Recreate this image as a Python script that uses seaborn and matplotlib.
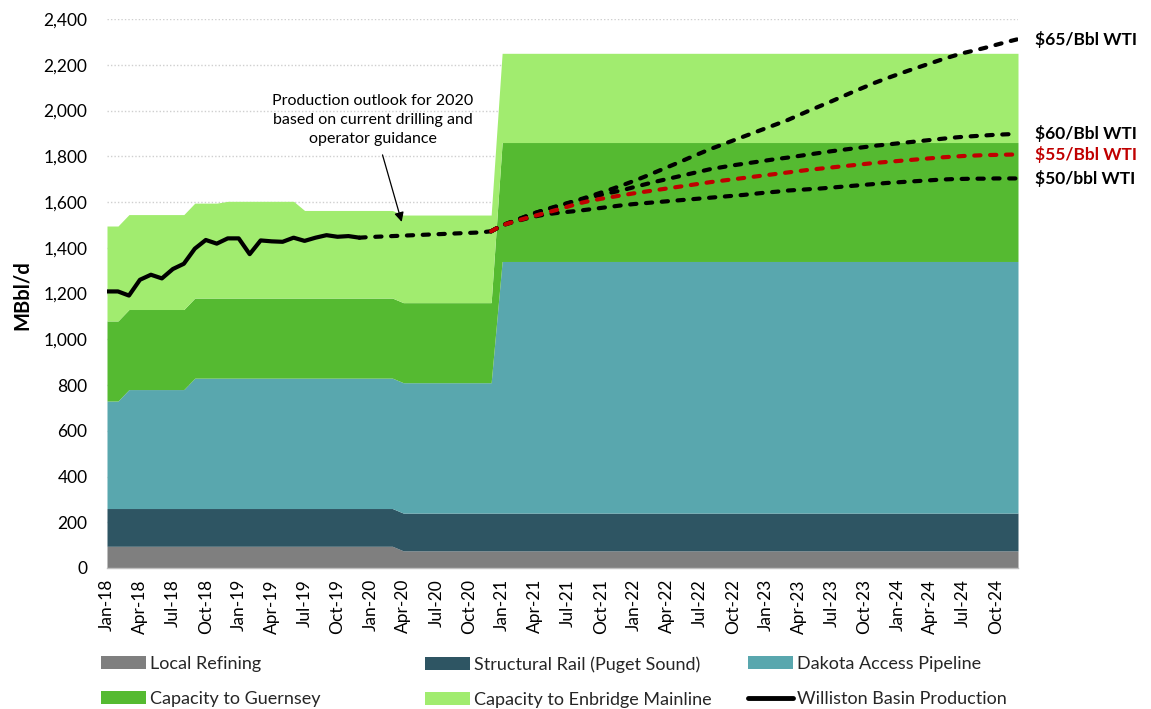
import numpy as np
import pandas as pd
import matplotlib
matplotlib.use("Agg")
import matplotlib.pyplot as plt
from matplotlib.patches import Patch
from matplotlib.lines import Line2D
import seaborn as sns

sns.set_theme(style="white")
plt.rcParams["font.family"] = ["Lato", "DejaVu Sans"]

# ---- monthly axis: Jan-2018 .. Dec-2024 ----
months = pd.date_range("2018-01-01", periods=84, freq="MS")
month_labels = [d.strftime("%b-%y") for d in months]
tick_step = 3

# ---- takeaway capacity (MBbl/d), one value per month ----
local_refining = [95] * 27 + [75] * 57
structural_rail = [165] * 84
dakota_access = [470] * 2 + [520] * 6 + [570] * 28 + [1100] * 48
capacity_guernsey = [350] * 36 + [520] * 48
capacity_enbridge = [415] * 11 + [423] * 7 + [383] * 18 + [390] * 48

capacity_labels = ["Local Refining", "Structural Rail (Puget Sound)",
                   "Dakota Access Pipeline", "Capacity to Guernsey",
                   "Capacity to Enbridge Mainline"]
capacity_colors = ["#7F7F7F", "#2E5563", "#59A7AE", "#55BA31", "#A1EC6F"]

# ---- Williston Basin production (MBbl/d) ----
# actuals, Jan-18 .. Dec-19
production_actual = [1209, 1209, 1191, 1260, 1282, 1266, 1307, 1330, 1396, 1434,
                     1418, 1441, 1441, 1372, 1432, 1428, 1426, 1444, 1430, 1444,
                     1455, 1448, 1451, 1444]
# 2020 outlook, Dec-19 .. Dec-20
outlook_2020 = [1444, 1447, 1449, 1451, 1453, 1455, 1457, 1459, 1461, 1463,
                1465, 1467, 1472]
# price scenarios, Jan-21 .. Dec-24
wti_65 = [1498, 1516, 1534, 1552, 1568, 1582, 1596, 1610, 1625, 1641, 1657, 1674,
          1692, 1711, 1731, 1751, 1771, 1792, 1812, 1832, 1850, 1868, 1886, 1904,
          1922, 1940, 1958, 1979, 2000, 2020, 2040, 2061, 2082, 2102, 2122, 2140,
          2157, 2174, 2190, 2206, 2222, 2237, 2251, 2262, 2274, 2287, 2300, 2312]
wti_60 = [1498, 1516, 1534, 1552, 1566, 1580, 1594, 1608, 1620, 1631, 1642, 1652,
          1665, 1677, 1689, 1700, 1711, 1722, 1733, 1744, 1752, 1760, 1767, 1774,
          1781, 1788, 1794, 1801, 1808, 1815, 1822, 1828, 1834, 1840, 1846, 1851,
          1856, 1861, 1866, 1871, 1876, 1881, 1885, 1888, 1891, 1894, 1896, 1898]
wti_55 = [1498, 1513, 1527, 1540, 1553, 1566, 1580, 1594, 1605, 1614, 1622, 1630,
          1638, 1645, 1652, 1659, 1666, 1673, 1680, 1687, 1693, 1699, 1705, 1711,
          1717, 1723, 1729, 1735, 1741, 1746, 1751, 1756, 1761, 1766, 1771, 1775,
          1779, 1783, 1787, 1791, 1795, 1798, 1801, 1803, 1805, 1806, 1807, 1808]
wti_50 = [1498, 1512, 1525, 1537, 1546, 1552, 1557, 1562, 1568, 1574, 1580, 1586,
          1591, 1595, 1599, 1603, 1607, 1611, 1615, 1619, 1623, 1627, 1631, 1636,
          1641, 1645, 1650, 1653, 1656, 1659, 1663, 1667, 1671, 1675, 1679, 1683,
          1686, 1689, 1692, 1695, 1698, 1700, 1701, 1702, 1702, 1703, 1703, 1703]
scenario_labels = ["$65/Bbl WTI", "$60/Bbl WTI", "$55/Bbl WTI", "$50/bbl WTI"]
scenario_colors = ["black", "black", "#C00000", "black"]

idx = np.arange(len(months))
i_actual = idx[:24]
i_2020 = idx[23:36]
i_scen = idx[35:]

fig = plt.figure(figsize=(11.51, 7.09), dpi=100)
ax = fig.add_axes([107 / 1151, 1 - 568 / 709, 911 / 1151, 549 / 709])

# stacked capacity areas
ax.stackplot(idx, local_refining, structural_rail, dakota_access,
             capacity_guernsey, capacity_enbridge,
             colors=capacity_colors, linewidth=0, zorder=2)

dash = (0, (1.5, 2.3))
line_kw = dict(linewidth=3.0, zorder=4)

sns.lineplot(x=i_actual, y=production_actual, ax=ax, color="black",
             linewidth=3.0, zorder=5, solid_capstyle="round")
sns.lineplot(x=i_2020, y=outlook_2020, ax=ax, color="black",
             linestyle=dash, dash_capstyle="round", **line_kw)

all_scenarios = [wti_65, wti_60, wti_55, wti_50]
for k in [0, 1, 3, 2]:
    vals = [outlook_2020[-1]] + all_scenarios[k]
    sns.lineplot(x=i_scen, y=vals, ax=ax, color=scenario_colors[k],
                 linestyle=dash, dash_capstyle="round", **line_kw)
    ax.annotate(scenario_labels[k], xy=(idx[-1], vals[-1]), xytext=(12, 0),
                textcoords="offset points", va="center", ha="left",
                fontsize=12.5, fontweight="bold", color=scenario_colors[k],
                annotation_clip=False)

# annotation for the 2020 outlook
ax.annotate("Production outlook for 2020\nbased on current drilling and\noperator guidance",
            xy=(26.85, 1513), xytext=(24.2, 1957), ha="center", va="center",
            fontsize=11.5, linespacing=1.45, color="black",
            arrowprops=dict(arrowstyle="-|>", color="black", lw=0.9,
                            mutation_scale=14, shrinkA=4, shrinkB=0))

# axes
ax.set_xlim(0, idx[-1])
ax.set_ylim(0, 2400)
ax.set_yticks(np.arange(0, 2401, 200))
ax.set_yticklabels([f"{v:,}" for v in range(0, 2401, 200)], fontsize=12.5)
tick_pos = idx[::tick_step]
ax.set_xticks(tick_pos)
ax.set_xticklabels([month_labels[i] for i in tick_pos], rotation=90, fontsize=12.5)
ax.tick_params(axis="y", length=0, pad=14, colors="black")
ax.tick_params(axis="x", length=5, width=1, color="#BFBFBF", pad=3, labelcolor="black")
ax.set_ylabel("")
fig.text(22 / 1151, 1 - 295 / 709, "MBbl/d", rotation=90, ha="center", va="center",
         fontsize=14.5, fontweight="bold", family="Lato", color="black")
ax.yaxis.grid(True, linestyle=(0, (1, 1.5)), color="#CFCFCF", linewidth=1)
ax.xaxis.grid(False)
ax.set_axisbelow(True)
for s in ["top", "right", "left"]:
    ax.spines[s].set_visible(False)
ax.spines["bottom"].set_color("#BFBFBF")
ax.spines["bottom"].set_linewidth(1)
ax.spines["bottom"].set_zorder(6)

# legend: three columns of two entries each
handles = [Patch(facecolor=c, edgecolor="none") for c in capacity_colors]
handles.append(Line2D([0], [0], color="black", linewidth=3.5))
labels = capacity_labels + ["Williston Basin Production"]
columns = [(0, 3), (1, 4), (2, 5)]
col_x = [101, 425, 748]
for (a, b), x0 in zip(columns, col_x):
    fig.legend([handles[a], handles[b]], [labels[a], labels[b]],
               loc="upper left", bbox_to_anchor=(x0 / 1151, 1 - 656 / 709),
               frameon=False, fontsize=13, handlelength=2.5,
               handleheight=0.7, handletextpad=0.2, labelspacing=1.05,
               borderpad=0, borderaxespad=0)

fig.savefig("out.png", dpi=100)
